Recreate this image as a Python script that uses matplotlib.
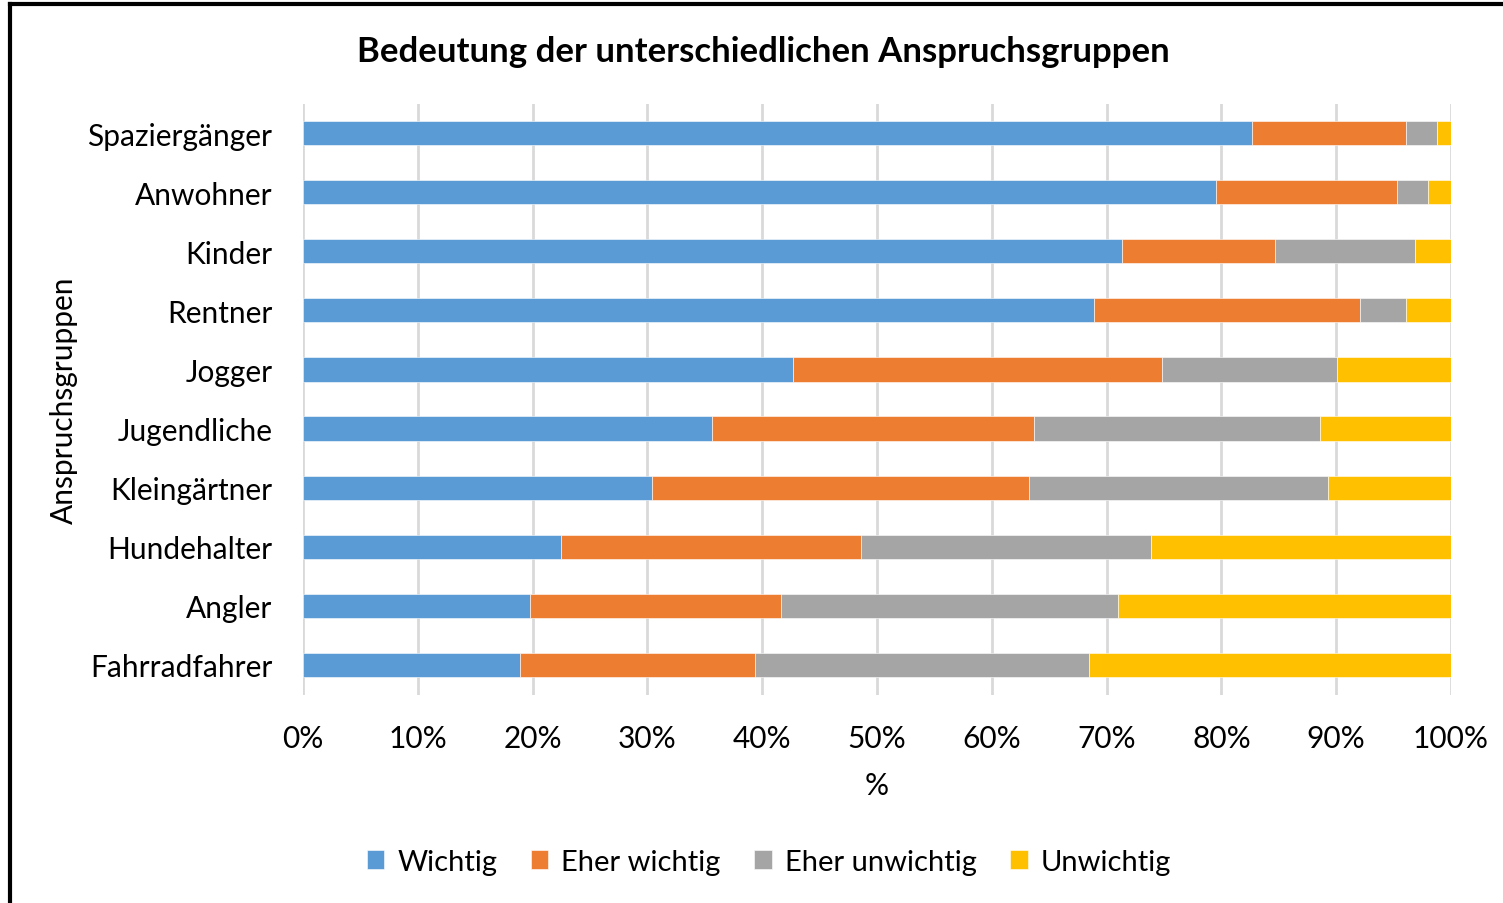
import numpy as np
import matplotlib
matplotlib.use("Agg")
import matplotlib.pyplot as plt
from matplotlib.lines import Line2D
from matplotlib.ticker import FuncFormatter

# categories from bottom to top
groups = ['Fahrradfahrer', 'Angler', 'Hundehalter', 'Kleingärtner', 'Jugendliche',
          'Jogger', 'Rentner', 'Kinder', 'Anwohner', 'Spaziergänger']

# shares in percent, same order as groups
wichtig = [18.9, 19.8, 22.5, 30.4, 35.6, 42.7, 68.9, 71.3, 79.5, 82.7]
eher_wichtig = [20.5, 21.8, 26.1, 32.8, 28.1, 32.1, 23.2, 13.4, 15.8, 13.4]
eher_unwichtig = [29.1, 29.4, 25.3, 26.1, 24.9, 15.3, 4.0, 12.2, 2.7, 2.7]
unwichtig = [31.5, 29.0, 26.1, 10.7, 11.4, 9.9, 3.9, 3.1, 2.0, 1.2]

series = ['Wichtig', 'Eher wichtig', 'Eher unwichtig', 'Unwichtig']
colors = ['#5B9BD5', '#ED7D31', '#A5A5A5', '#FFC000']

plt.rcParams['font.family'] = ['Lato', 'DejaVu Sans']

fig = plt.figure(figsize=(15.03, 9.04), dpi=100)
ax = fig.add_axes([303 / 1503, 1 - 695.5 / 904, (1451 - 303) / 1503, (695.5 - 104.5) / 904])

y = np.arange(len(groups))
left = np.zeros(len(groups))
for vals, name, col in zip([wichtig, eher_wichtig, eher_unwichtig, unwichtig], series, colors):
    vals = np.array(vals)
    ax.barh(y, vals, left=left, height=0.41, color=col, label=name,
            edgecolor='white', linewidth=0.4, zorder=3)
    left += vals

ax.set_xlim(0, 100)
ax.set_ylim(-0.5, len(groups) - 0.5)
ax.set_xticks(np.arange(0, 101, 10))
ax.xaxis.set_major_formatter(FuncFormatter(lambda v, p: f'{int(v)}%'))
ax.set_yticks(y)
ax.set_yticklabels(groups)
ax.tick_params(axis='both', length=0, labelsize=21.5)
ax.tick_params(axis='x', pad=21)
ax.tick_params(axis='y', pad=22)
ax.grid(axis='x', color='#d9d9d9', linewidth=2, zorder=0)
for s in ax.spines.values():
    s.set_visible(False)

ax.set_xlabel('%', fontsize=21.5, labelpad=14)
fig.text(64 / 1503, 1 - 400 / 904, 'Anspruchsgruppen', rotation=90, fontsize=21.5,
         ha='center', va='center')

fig.text(763 / 1503, 1 - 52 / 904, 'Bedeutung der unterschiedlichen Anspruchsgruppen',
         fontsize=25, fontweight='bold', ha='center', va='center')

fig.legend(loc='center', bbox_to_anchor=(769 / 1503, 1 - 863 / 904), ncol=4,
           frameon=False, fontsize=21, handlelength=0.6, handleheight=0.6,
           handletextpad=0.45, columnspacing=1.15)

# outer frame (only left and top edges visible)
fig.add_artist(Line2D([10 / 1503, 10 / 1503], [0, 1 - 5 / 904], color='black',
                      linewidth=3, transform=fig.transFigure))
fig.add_artist(Line2D([10 / 1503, 1], [1 - 5 / 904, 1 - 5 / 904], color='black',
                      linewidth=3, transform=fig.transFigure))

plt.savefig('out.png', dpi=100)
